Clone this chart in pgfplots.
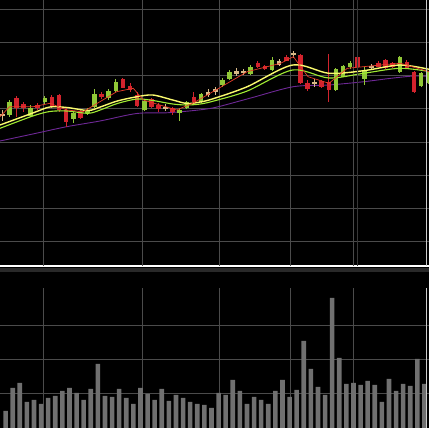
\documentclass[border=0pt]{standalone}
\usepackage{pgfplots}
\usepackage{pgfplotstable}
\pgfplotsset{compat=1.18}
\definecolor{cred}{RGB}{210,35,45}
\definecolor{cgreen}{RGB}{145,200,55}
\definecolor{ctan}{RGB}{215,185,135}
\definecolor{myellow}{RGB}{250,250,110}
\definecolor{mgreen}{RGB}{160,235,50}
\definecolor{mpurple}{RGB}{110,40,150}
\definecolor{mred}{RGB}{230,60,40}
\definecolor{gridc}{RGB}{75,75,75}
\definecolor{volc}{RGB}{112,112,112}

% candles in screen units (y grows downward): body top/bottom, wick high/low, type 1 red 2 green 3 tan
\pgfplotstableread{
x top bot hi lo t
1 114.5 116.5 110 121 3
2 102.3 115 100 117 2
3 97.7 107.7 96 116.7 1
4 104 108.3 102 111.7 1
5 107.7 115.7 105 117 2
6 105 107.7 103 110 1
7 98.3 102.3 95.7 104 2
8 96.7 106.7 95 108 1
9 95 110 94 112 1
10 110 122.3 107.7 126.7 1
11 113.3 119 111 123 2
12 111 117.7 109 119 1
13 110 113.3 108 115 2
14 94.3 106.7 89 108 2
15 94.3 96.7 91.7 99 1
16 91 97.7 89 100 2
17 81.7 91 79.3 92 2
18 79.3 87.7 78.5 88.5 1
19 85.7 90 83 92 1
20 95 106 91.7 106.7 1
21 101 110 100 111 2
22 99 106.7 98 108 1
23 105 109 103 111.7 1
24 107.3 109.5 104 111 3
25 108.3 112.3 106.7 115 1
26 110.3 112.7 108 121 2
27 102.3 107.7 101 109 2
28 96.7 101.7 92 103 1
29 94.3 101.7 93 103 2
30 91.7 95 89 96.7 3
31 89.3 91.7 86.7 95 3
32 80 85 78.3 86.7 2
33 71.7 79.3 70 80 2
34 70.7 74 68.3 76 3
35 70.7 73.3 69 75 3
36 66.7 74.3 65 75 2
37 62.7 66.7 60.7 68.3 1
38 66 69.3 65 70 1
39 60 70 57.3 70.7 2
40 60.7 65 59 66 3
41 56.7 60.7 55.5 61.5 1
42 53.3 55.3 50.7 58.3 3
43 55 83.3 54 84.5 1
44 82.7 89.3 80 90.7 1
45 82 84 79.3 86.7 3
46 80.7 86.7 80 88 1
47 81.7 90 54 101.7 1
48 69.3 90 68.5 91 2
49 66 76.7 65 77.3 2
50 62.7 67.3 60.7 69.3 2
51 56.7 66.7 55.5 67.5 1
52 70 79.3 67.3 85 2
53 66 68.3 64.5 70 3
54 62.7 66.7 61.5 67.5 1
55 60 68.3 59 69 1
56 63.3 67.3 62.5 68 1
57 57.3 71.7 56 72.7 2
58 61.7 68.3 60.5 69 1
59 71.7 91.7 70.7 92.7 1
60 73.3 86 72 87 2
61 72 83.3 71 84 2
}\candles

\pgfplotstableread{
x v
1 17
2 40
3 45
4 26
5 28
6 24
7 30
8 32
9 37
10 40
11 35
12 28
13 39
14 64
15 32
16 31
17 39
18 30
19 24
20 40
21 34
22 28
23 39
24 27
25 33
26 30
27 26
28 24
29 23
30 20
31 35
32 33
33 48
34 37
35 24
36 31
37 28
38 24
39 37
40 48
41 31
42 38
43 87
44 59
45 41
46 33
47 130
48 70
49 44
50 45
51 43
52 47
53 43
54 26
55 49
56 37
57 44
58 42
59 69
60 44
61 35
}\volume

\pgfplotsset{
  panel/.style={
    scale only axis, width=429pt,
    xmin=0.676, xmax=61.1,
    axis line style={draw=none}, tick style={draw=none},
    xticklabels={}, yticklabels={},
    xtick={6.73,20.68,31.52,41.52,50.39},
    grid=major, major grid style={gridc, line width=0.8pt},
    clip=true,
  },
  wick/.style n args={2}{draw=none, mark=none, forget plot,
    restrict expr to domain={\thisrow{t}}{#1:#1},
    error bars/.cd, y dir=both, y explicit, error mark=none,
    error bar style={draw=#2, line width=1pt, solid}},
  body/.style n args={2}{draw=none, mark=none, forget plot,
    restrict expr to domain={\thisrow{t}}{#1:#1},
    error bars/.cd, y dir=both, y explicit, error mark=none,
    error bar style={draw=#2, line width=4.6pt, solid}},
}

\begin{document}
\begin{tikzpicture}[x=1pt,y=1pt]
\path[use as bounding box] (0,0) rectangle (429,428);
\clip (0,0) rectangle (429,428);
\fill[black] (0,0) rectangle (429,428);
% separator
\fill[black!84] (0,155.5) rectangle (429,159.5);
\draw[white, line width=1.2pt] (0,162) -- (429,162);

\begin{axis}[panel, at={(0,162)}, anchor=south west, height=266pt,
  ymin=0, ymax=266, y filter/.expression={266-y},
  ytick={257,224,191,158,124,91,58,25},
]
% purple MA
\addplot[mpurple, line width=0.9pt, smooth, forget plot] coordinates {
(0.68,141) (5.3,134) (10.07,126.7) (14.76,121) (19.93,113.5) (24.15,112.8) (28,110.5) (30.96,107.5) (36,98) (41.99,86.7) (47.0,85) (51.94,81.7) (55.5,78.5) (58.97,76) (61.1,76.5)};
% candles
\addplot[wick={1}{cred}] table[x=x, y expr={(\thisrow{hi}+\thisrow{lo})/2}, y error expr={(\thisrow{lo}-\thisrow{hi})/2}] {\candles};
\addplot[wick={2}{cgreen}] table[x=x, y expr={(\thisrow{hi}+\thisrow{lo})/2}, y error expr={(\thisrow{lo}-\thisrow{hi})/2}] {\candles};
\addplot[wick={3}{ctan}] table[x=x, y expr={(\thisrow{hi}+\thisrow{lo})/2}, y error expr={(\thisrow{lo}-\thisrow{hi})/2}] {\candles};
\addplot[body={1}{cred}] table[x=x, y expr={(\thisrow{top}+\thisrow{bot})/2}, y error expr={(\thisrow{bot}-\thisrow{top})/2}] {\candles};
\addplot[body={2}{cgreen}] table[x=x, y expr={(\thisrow{top}+\thisrow{bot})/2}, y error expr={(\thisrow{bot}-\thisrow{top})/2}] {\candles};
\addplot[body={3}{ctan}] table[x=x, y expr={(\thisrow{top}+\thisrow{bot})/2}, y error expr={(\thisrow{bot}-\thisrow{top})/2}] {\candles};
% green MA
\addplot[mgreen, line width=1.1pt, smooth, forget plot] coordinates {
(0.68,128.3) (5.3,116) (7.7,111.5) (10.1,111) (13.1,113.3) (14.8,110) (17.2,103.5) (20,99) (22.2,100.5) (25,104) (27,105) (28.9,104) (30.8,101) (35.5,91) (41.9,70) (47,78) (51.9,73.3) (57,68.3) (61.1,71.5)};
% yellow MA
\addplot[myellow, line width=1.4pt, smooth, forget plot] coordinates {
(0.68,125) (5.3,113) (7.7,107) (10.1,107.5) (13.1,110.5) (14.8,107) (17.2,101) (20,96.7) (22.2,95) (25,100) (27,103.5) (28.9,102) (30.8,98.5) (35.5,86.7) (41.9,65) (47,73.3) (51.9,70.7) (57,65) (61.1,69.3)};
% red MA
\addplot[mred, line width=0.7pt, forget plot] coordinates {
(0.68,116.7) (2.03,106.7) (5.37,106.7) (7.72,103.3) (10.07,110) (12.41,111.7) (14.76,101.7) (17.11,91.7) (19.45,88.3) (20.86,100) (23.21,105) (25.56,110) (27.9,103) (30.96,90.5) (35.5,71.7) (40.2,63.3) (42.0,56.7) (44.06,76.7) (47.01,83.3) (49.59,68.3) (54.3,65) (57.1,63.3) (61.1,71.7)};
\end{axis}

\begin{axis}[panel, at={(0,0)}, anchor=south west, height=140pt,
  ymin=0, ymax=140, ytick={35,69,103},
  ybar, bar width=4.6pt,
]
\addplot[fill=volc, draw=none, forget plot] table[x=x, y=v] {\volume};
\end{axis}
% secondary faint line and cursor line
\draw[black!78, line width=0.8pt] (357,162) -- (357,428);
\draw[white!80!black, line width=1pt] (426,162) -- (426,428);
\draw[white!80!black, line width=1pt] (426,0) -- (426,140);
\end{tikzpicture}
\end{document}
